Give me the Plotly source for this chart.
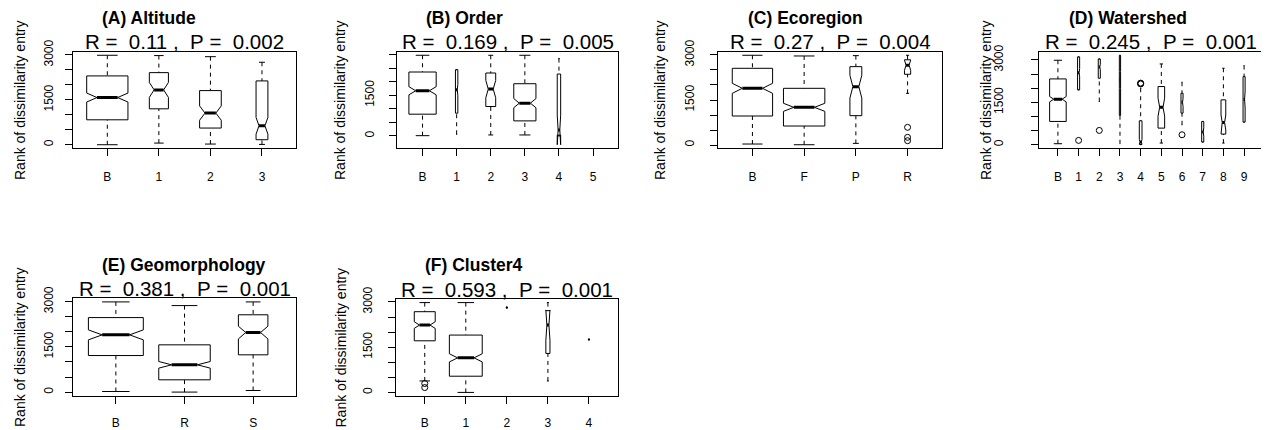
import plotly.graph_objects as go

# The page places the figure 8 px in from the top-left corner, so the figure is
# sized to the visible area and every pixel position is taken relative to that.
OFF = 8
FIG_W, FIG_H = 1269 - OFF, 430 - OFF
FONT = "Liberation Sans, Arial, Helvetica, sans-serif"

# ---------------- data ----------------
TITLES = ["(A) Altitude", "(B) Order", "(C) Ecoregion", "(D) Watershed",
          "(E) Geomorphology", "(F) Cluster4"]
R_VALUES = [0.11, 0.169, 0.27, 0.245, 0.381, 0.593]
P_VALUES = [0.002, 0.005, 0.004, 0.001, 0.001, 0.001]
Y_LABEL = "Rank of dissimilarity entry"
Y_TICKS = [0, 500, 1000, 1500, 2000, 2500, 3000]
Y_TICK_TEXT = ["0", "", "", "1500", "", "", "3000"]
Y_TICK_TEXT_B = ["0", "", "", "1500", "", "", ""]

# (A) Altitude
A_GROUPS = ["B", "1", "2", "3"]
A_LOWER = [0, 55, 22, 10]
A_Q1 = [833, 1200, 557, 167]
A_MEDIAN = [1577, 1833, 1057, 633]
A_Q3 = [2300, 2410, 1810, 2133]
A_UPPER = [2990, 2980, 2943, 2757]
A_NOTCH = [150, 250, 240, 280]
A_OUTLIERS = [[], [], [], []]
A_WIDTH = [0.8, 0.37, 0.42, 0.23]

# (B) Order
B_GROUPS = ["B", "1", "2", "3", "4", "5"]
B_LOWER = [11, 63, 37, 37, 0, None]
B_Q1 = [803, 840, 1086, 556, 30, None]
B_MEDIAN = [1667, 1700, 1728, 1210, 222, None]
B_Q3 = [2358, 2444, 2321, 1926, 2284, None]
B_UPPER = [2975, 2444, 2975, 2975, 2852, None]
B_NOTCH = [150, 200, 320, 170, 545, None]
B_OUTLIERS = [[], [], [], [], [], []]
B_WIDTH = [0.8, 0.07, 0.29, 0.65, 0.1, None]

# (C) Ecoregion
C_GROUPS = ["B", "F", "P", "R"]
C_LOWER = [33, 10, 55, 1722]
C_Q1 = [967, 633, 978, 2357]
C_MEDIAN = [1889, 1256, 1944, 2660]
C_Q3 = [2556, 1889, 2611, 2840]
C_UPPER = [2990, 2967, 2978, 2990]
C_NOTCH = [167, 135, 380, 170]
C_OUTLIERS = [[], [], [], [589, 256, 144]]
C_WIDTH = [0.78, 0.8, 0.23, 0.12]

# (D) Watershed
D_GROUPS = ["B", "1", "2", "3", "4", "5", "6", "7", "8", "9"]
D_LOWER = [35, 1941, 1529, 35, 0, 59, 706, 94, 59, 800]
D_Q1 = [824, 1941, 2353, 1035, 10, 588, 1118, 94, 376, 800]
D_MEDIAN = [1612, 2550, 2750, 2300, 100, 1329, 1500, 450, 788, 1600]
D_Q3 = [2329, 3110, 3035, 3166, 847, 2059, 1824, 824, 1588, 2412]
D_UPPER = [2990, 3110, 3035, 3166, 2000, 2859, 2212, 824, 2706, 2800]
D_NOTCH = [95, 150, 100, 300, 90, 318, 150, 150, 265, 300]
D_OUTLIERS = [[], [153], [506], [], [2153, 2165, 2180], [], [353], [], [], []]
D_WIDTH = [0.8, 0.1, 0.1, 0.06, 0.13, 0.32, 0.1, 0.1, 0.23, 0.1]

# (E) Geomorphology
E_GROUPS = ["B", "R", "S"]
E_LOWER = [20, 0, 53]
E_Q1 = [1212, 407, 1235]
E_MEDIAN = [1897, 904, 1975]
E_Q3 = [2470, 1567, 2563]
E_UPPER = [2990, 2868, 2990]
E_NOTCH = [165, 110, 210]
E_OUTLIERS = [[], [], []]
E_WIDTH = [0.8, 0.75, 0.43]

# (F) Cluster4
F_GROUPS = ["B", "1", "2", "3", "4"]
F_LOWER = [385, 5, 2812, 385, 1756]
F_Q1 = [1713, 541, 2812, 1295, 1756]
F_MEDIAN = [2234, 1149, 2812, 2234, 1756]
F_Q3 = [2677, 1903, 2812, 2711, 1756]
F_UPPER = [2978, 2978, 2812, 2978, 1756]
F_NOTCH = [110, 135, 0, 500, 0]
F_OUTLIERS = [[300, 165], [], [], [], []]
F_WIDTH = [0.51, 0.8, 0.05, 0.1, 0.05]

# ---------------- layout (pixels in the 1269x430 window) ----------------
PANEL_BOX = [
    (73.3, 296.0, 51.7, 148.3),
    (397.3, 618.3, 51.7, 148.3),
    (718.3, 941.7, 51.7, 148.3),
    (1039.3, 1262.7, 51.7, 148.3),
    (73.3, 295.7, 298.3, 395.7),
    (396.0, 617.7, 299.0, 396.0),
]
YLAB_X = [20, 340, 660, 986, 20, 340]
YTICK_STANDOFF = [8, 11, 12, 24, 8, 11]
XTICK_STANDOFF = [10, 10, 10, 10, 9, 9]

PANELS = [
    (A_GROUPS, A_LOWER, A_Q1, A_MEDIAN, A_Q3, A_UPPER, A_NOTCH, A_OUTLIERS, A_WIDTH),
    (B_GROUPS, B_LOWER, B_Q1, B_MEDIAN, B_Q3, B_UPPER, B_NOTCH, B_OUTLIERS, B_WIDTH),
    (C_GROUPS, C_LOWER, C_Q1, C_MEDIAN, C_Q3, C_UPPER, C_NOTCH, C_OUTLIERS, C_WIDTH),
    (D_GROUPS, D_LOWER, D_Q1, D_MEDIAN, D_Q3, D_UPPER, D_NOTCH, D_OUTLIERS, D_WIDTH),
    (E_GROUPS, E_LOWER, E_Q1, E_MEDIAN, E_Q3, E_UPPER, E_NOTCH, E_OUTLIERS, E_WIDTH),
    (F_GROUPS, F_LOWER, F_Q1, F_MEDIAN, F_Q3, F_UPPER, F_NOTCH, F_OUTLIERS, F_WIDTH),
]

NB = "\u00a0"


def px_x(v):
    return (v - OFF) / FIG_W


def px_y(v):
    return 1 - (v - OFF) / FIG_H


def stat_text(r, p):
    return f"R{NB}={NB}{NB}{r}{NB},{NB}{NB}P{NB}={NB}{NB}{p}"


fig = go.Figure()
annotations = []

for k, (groups, lower, q1, med, q3, upper, notch, outs, width) in enumerate(PANELS):
    ax = "" if k == 0 else str(k + 1)
    xref, yref = "x" + ax, "y" + ax
    px, py = [], []
    mx, my = [], []
    wx, wy = [], []
    sx, sy = [], []
    ox, oy = [], []
    lo_vals, hi_vals = [], []
    for i in range(len(groups)):
        if med[i] is None:
            continue
        x = i + 1
        hw = width[i] / 2.0
        clo, chi = med[i] - notch[i], med[i] + notch[i]
        px += [x - hw, x + hw, x + hw, x + 0.5 * hw, x + hw, x + hw,
               x - hw, x - hw, x - 0.5 * hw, x - hw, x - hw, None]
        py += [q1[i], q1[i], clo, med[i], chi, q3[i], q3[i], chi, med[i],
               clo, q1[i], None]
        mx += [x - 0.5 * hw, x + 0.5 * hw, None]
        my += [med[i], med[i], None]
        if lower[i] < q1[i]:
            wx += [x, x, None]
            wy += [lower[i], q1[i], None]
        if upper[i] > q3[i]:
            wx += [x, x, None]
            wy += [upper[i], q3[i], None]
        sx += [x - 0.5 * hw, x + 0.5 * hw, None, x - 0.5 * hw, x + 0.5 * hw, None]
        sy += [lower[i], lower[i], None, upper[i], upper[i], None]
        for o in outs[i]:
            ox.append(x)
            oy.append(o)
        lo_vals += [lower[i], clo] + list(outs[i])
        hi_vals += [upper[i], chi] + list(outs[i])

    common = dict(xaxis=xref, yaxis=yref, showlegend=False, hoverinfo="skip")
    fig.add_trace(go.Scatter(x=wx, y=wy, mode="lines",
                             line=dict(color="black", width=1, dash="4px,4px"), **common))
    fig.add_trace(go.Scatter(x=sx, y=sy, mode="lines",
                             line=dict(color="black", width=1), **common))
    fig.add_trace(go.Scatter(x=px, y=py, mode="lines",
                             line=dict(color="black", width=1), **common))
    fig.add_trace(go.Scatter(x=mx, y=my, mode="lines",
                             line=dict(color="black", width=3), **common))
    if ox:
        fig.add_trace(go.Scatter(x=ox, y=oy, mode="markers",
                                 marker=dict(symbol="circle-open", size=6, color="black",
                                             line=dict(width=1, color="black")),
                                 **common))

    n = len(groups)
    lo, hi = min(lo_vals), max(hi_vals)
    pad = 0.04 * (hi - lo)
    l, r, t, b = PANEL_BOX[k]
    fig.update_layout(**{
        "xaxis" + ax: dict(
            domain=[px_x(l), px_x(r)], anchor=yref,
            range=[0.5 - 0.04 * n, n + 0.5 + 0.04 * n],
            tickvals=list(range(1, n + 1)), ticktext=groups,
            ticks="outside", ticklen=7, tickwidth=1, tickcolor="black",
            showline=True, mirror=True, linecolor="black", linewidth=1,
            showgrid=False, zeroline=False, fixedrange=True, automargin=False,
            tickfont=dict(family=FONT, size=12, color="black"),
            ticklabelstandoff=XTICK_STANDOFF[k],
        ),
        "yaxis" + ax: dict(
            domain=[px_y(b), px_y(t)], anchor=xref,
            range=[lo - pad, hi + pad],
            tickvals=Y_TICKS, ticktext=(Y_TICK_TEXT_B if k == 1 else Y_TICK_TEXT),
            tickangle=-90,
            ticks="outside", ticklen=7, tickwidth=1, tickcolor="black",
            showline=True, mirror=True, linecolor="black", linewidth=1,
            showgrid=False, zeroline=False, fixedrange=True, automargin=False,
            tickfont=dict(family=FONT, size=12, color="black"),
            ticklabelstandoff=YTICK_STANDOFF[k],
        ),
    })

    h = b - t
    annotations.append(dict(
        text=f"<b>{TITLES[k]}</b>", xref=xref + " domain", yref=yref + " domain",
        x=0.122, y=1 + 33.7 / h, xanchor="left", yanchor="middle", showarrow=False,
        font=dict(family=FONT, size=17.5, color="black")))
    annotations.append(dict(
        text=stat_text(R_VALUES[k], P_VALUES[k]), xref=xref + " domain", yref=yref + " domain",
        x=0.5, y=1 + 9.8 / h, xanchor="center", yanchor="middle", showarrow=False,
        font=dict(family=FONT, size=20.5, color="black")))
    annotations.append(dict(
        text=Y_LABEL, xref="paper", yref=yref + " domain",
        x=px_x(YLAB_X[k]), y=0.5, xanchor="center", yanchor="middle", textangle=-90,
        showarrow=False, font=dict(family=FONT, size=14, color="black")))

fig.update_layout(
    width=FIG_W, height=FIG_H,
    margin=dict(l=0, r=0, t=0, b=0, pad=0, autoexpand=False),
    paper_bgcolor="white", plot_bgcolor="white",
    annotations=annotations,
    showlegend=False,
)

fig.write_html("out.html", config={"displayModeBar": False})
